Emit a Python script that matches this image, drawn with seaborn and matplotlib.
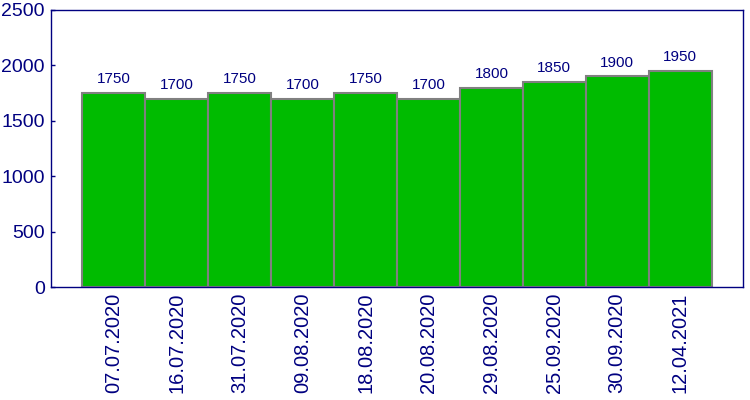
import pandas as pd
import matplotlib
matplotlib.use("Agg")
import matplotlib.pyplot as plt
import seaborn as sns

# data
dates = ["07.07.2020", "16.07.2020", "31.07.2020", "09.08.2020", "18.08.2020",
         "20.08.2020", "29.08.2020", "25.09.2020", "30.09.2020", "12.04.2021"]
values = [1750, 1700, 1750, 1700, 1750, 1700, 1800, 1850, 1900, 1950]

df = pd.DataFrame({"date": dates, "value": values})

sns.set_style("white")
plt.rcParams["font.family"] = ["Liberation Sans", "DejaVu Sans"]
navy = "#000080"

fig = plt.figure(figsize=(7.5, 4), dpi=100)
ax = fig.add_axes([0.068, 0.2825, 0.9227, 0.6925])

sns.barplot(data=df, x="date", y="value", color="#00bb00", saturation=1,
            width=1, edgecolor="#808080", linewidth=1.5, ax=ax)

ax.bar_label(ax.containers[0], fmt="%d", padding=5, color=navy, fontsize=11)

ax.set_xlim(-1, 10)
ax.set_ylim(0, 2500)
ax.set_yticks([0, 500, 1000, 1500, 2000, 2500])
ax.set_xlabel("")
ax.set_ylabel("")

for s in ax.spines.values():
    s.set_color(navy)
    s.set_linewidth(1)

ax.tick_params(axis="y", colors=navy, labelsize=14, length=3, width=1, left=True,
               direction="in", pad=4.5)
ax.tick_params(axis="x", colors=navy, labelsize=14.5, length=0, rotation=90, pad=4)

plt.savefig("out.png")
